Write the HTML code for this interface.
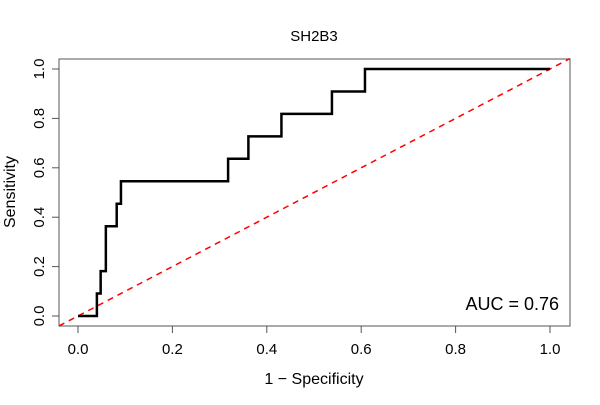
<!DOCTYPE html>
<html><head><meta charset="utf-8"><style>
body{margin:0;background:#fff;width:600px;height:400px;overflow:hidden}
text{font-family:"Liberation Sans",Arial,sans-serif;fill:#000}
</style></head><body>
<svg id="chart" width="600" height="400" viewBox="0 0 600 400">
<text x="314" y="41" font-size="15" text-anchor="middle">SH2B3</text>
<rect x="59" y="59" width="511" height="267" fill="none" stroke="#555" stroke-width="1"/>
<g id="axes"></g>
<g id="marks"></g>
<text x="314" y="384" font-size="16" text-anchor="middle">1 − Specificity</text>
<text x="0" y="0" font-size="16" text-anchor="middle" transform="translate(15,192) rotate(-90)">Sensitivity</text>
<text x="559" y="310" font-size="18" text-anchor="end">AUC = 0.76</text>
</svg>
<script>
const fpr = [0, 0.04, 0.04, 0.048, 0.048, 0.059, 0.059, 0.082, 0.082, 0.091, 0.091, 0.318, 0.318, 0.361, 0.361, 0.431, 0.431, 0.538, 0.538, 0.608, 0.608, 1];
const tpr = [0, 0, 0.0909, 0.0909, 0.1818, 0.1818, 0.3636, 0.3636, 0.4545, 0.4545, 0.5455, 0.5455, 0.6364, 0.6364, 0.7273, 0.7273, 0.8182, 0.8182, 0.9091, 0.9091, 1, 1];
const xTicks = ["0.0","0.2","0.4","0.6","0.8","1.0"];
const yTicks = ["0.0","0.2","0.4","0.6","0.8","1.0"];
const NS="http://www.w3.org/2000/svg";
const X=v=>78+v*472, Y=v=>316-v*247;
const axes=document.getElementById('axes'), marks=document.getElementById('marks');
function mk(tag,attrs,parent){const e=document.createElementNS(NS,tag);for(const k in attrs)e.setAttribute(k,attrs[k]);parent.appendChild(e);return e;}
let l=mk('line',{x1:X(0),x2:X(1),y1:326,y2:326,stroke:'#555'},axes);


xTicks.forEach(t=>{const v=parseFloat(t);
 const tk=mk('line',{x1:X(v),x2:X(v),y1:326,y2:333,stroke:'#555'},axes);
 
 
 const tx=mk('text',{x:X(v),y:354,'font-size':15,'text-anchor':'middle'},axes);tx.textContent=t;
 
 
});
l=mk('line',{x1:59,x2:59,y1:Y(0),y2:Y(1),stroke:'#555'},axes);


yTicks.forEach(t=>{const v=parseFloat(t);
 const tk=mk('line',{x1:52,x2:59,y1:Y(v),y2:Y(v),stroke:'#555'},axes);
 
 
 const tx=mk('text',{x:0,y:0,'font-size':15,'text-anchor':'middle',transform:`translate(44,${Y(v)}) rotate(-90)`},axes);tx.textContent=t;
 
 
});
const x0=(59-78)/472, x1=(570-78)/472;
const d=mk('line',{x1:X(x0),y1:Y(x0),x2:X(x1),y2:Y(x1),stroke:'#ff0000','stroke-width':1.5,'stroke-dasharray':'6,5'},marks);


const p=mk('polyline',{points:fpr.map((f,i)=>X(f)+','+Y(tpr[i])).join(' '),fill:'none',stroke:'#000','stroke-width':2.5},marks);


</script>
</body></html>
